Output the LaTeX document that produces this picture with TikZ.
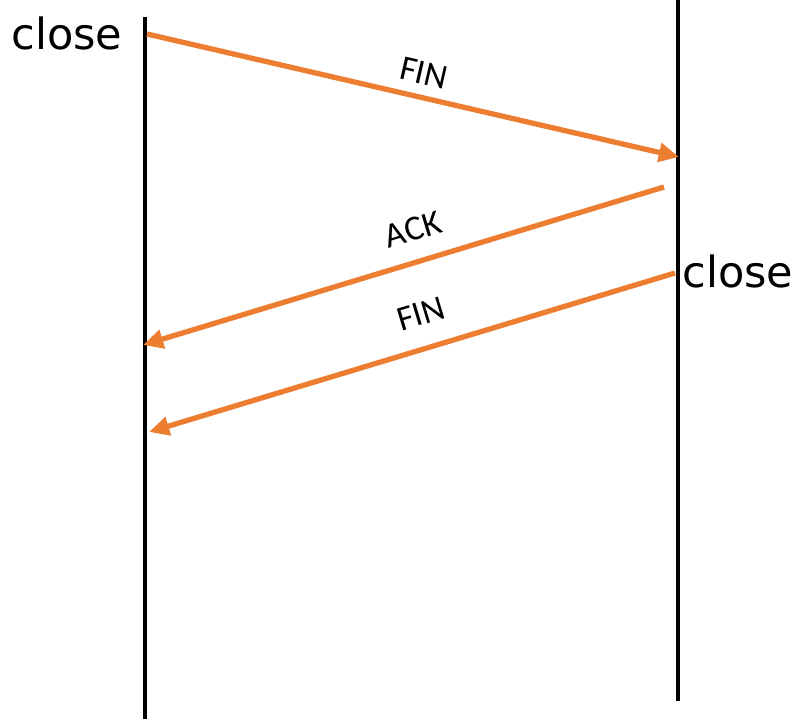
\documentclass[tikz,border=0pt]{standalone}
\usepackage{fontspec}
\setmainfont{Carlito}
\newfontfamily\closefont{DejaVu Sans}
\usepackage{xcolor}
\usetikzlibrary{arrows.meta,positioning,calc}

\definecolor{msgorange}{HTML}{ED7D31}

\begin{document}
\begin{tikzpicture}[
  x=0.02cm, y=-0.02cm,
  life/.style={draw=black, line width=1.8pt},
  msg/.style={-{Triangle[length=11.5pt,width=10.5pt]}, msgorange, line width=3pt},
  lbl/.style={font=\fontsize{20}{22}\selectfont, text=black, inner sep=0pt},
  evt/.style={font=\closefont\fontsize{24.5}{28}\selectfont, inner sep=0pt},
]
\useasboundingbox (0,0) rectangle (798,721);

%% ── Lifelines ────────────────────────────────────────────────────────────
\coordinate (Ltop) at (145,17);
\coordinate (Lbot) at (145,719);
\coordinate (Rtop) at (678,0);
\coordinate (Rbot) at (678,701);
\draw[life] (Ltop) -- (Lbot);
\draw[life] (Rtop) -- (Rbot);

%% ── Close events ─────────────────────────────────────────────────────────
\node[evt] (closeA) at (67,33) {close};
\node[evt] (closeB) at (738,271) {close};

%% ── Message end points ───────────────────────────────────────────────────
\coordinate (fin1s) at (147,34);
\coordinate (fin1e) at (679,157);
\coordinate (acks)  at (664,187);
\coordinate (acke)  at (143,345);
\coordinate (fin2s) at (675,273);
\coordinate (fin2e) at (149,432);

%% ── Messages ─────────────────────────────────────────────────────────────
\draw[msg] (fin1s) -- node[lbl, sloped, above=6pt, pos=0.51] {FIN} (fin1e);
\draw[msg] (acks) -- node[lbl, sloped, above=10.3pt, pos=0.464] {ACK} (acke);
\draw[msg] (fin2s) -- node[lbl, sloped, above=11.7pt, pos=0.464] {FIN} (fin2e);

\end{tikzpicture}
\end{document}
